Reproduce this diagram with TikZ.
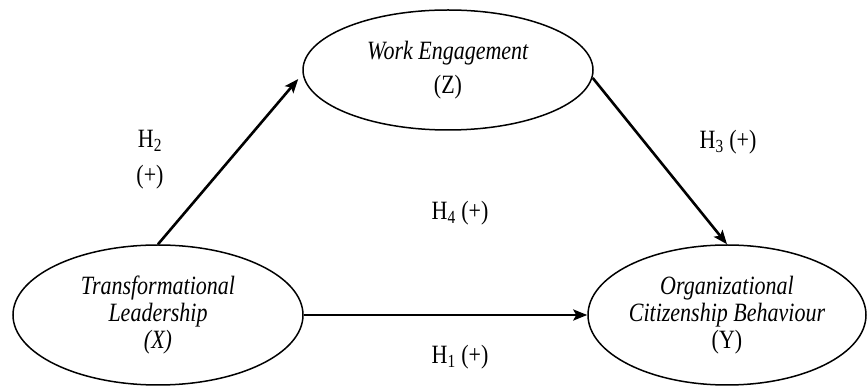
\documentclass[tikz,border=0pt]{standalone}
\usepackage{fontspec}
\usepackage{graphicx}
\setmainfont{Liberation Serif}
\usetikzlibrary{shapes.geometric,arrows.meta}
\newcommand{\vst}[1]{\scalebox{1}[1.2]{#1}}
\begin{document}
\begin{tikzpicture}[x=1pt,y=-1pt,
  latent/.style={ellipse,draw,line width=1.5pt,inner sep=0pt,align=center,font=\fontsize{22}{27}\selectfont},
  pathar/.style={line width=2.6pt,-{Stealth[length=14pt,width=11pt,inset=3pt]}},
  hyp/.style={font=\fontsize{22}{36}\selectfont,align=center,inner sep=0pt}]
\useasboundingbox (0,0) rectangle (868,387);
\node[latent,minimum width=290pt,minimum height=140pt] (X) at (158,315)
  {\vst{\textit{Transformational}}\\\vst{\textit{Leadership}}\\\vst{\textit{(X)}}};
\node[latent,minimum width=278pt,minimum height=140pt] (Y) at (727,315)
  {\vst{\textit{Organizational}}\\\vst{\textit{Citizenship Behaviour}}\\\vst{(Y)}};
\node[latent,minimum width=290pt,minimum height=120pt] (Z) at (448,70)
  {\vst{\textit{Work Engagement}}\\[7pt]\vst{(Z)}};
\draw[pathar] (X.north) -- ([xshift=-4pt,yshift=-9pt]Z.west);
\draw[pathar] ([xshift=-1pt,yshift=-8pt]Z.east) -- (Y.north);
\draw[pathar] (X.east) -- (Y.west);
\node[hyp] (h2) at (150,160) {\vst{H\textsubscript{2}}\\\vst{(+)}};
\node[hyp] (h3) at (728,142) {\vst{H\textsubscript{3} (+)}};
\node[hyp] (h4) at (460,213) {\vst{H\textsubscript{4} (+)}};
\node[hyp] (h1) at (460,357) {\vst{H\textsubscript{1} (+)}};
\end{tikzpicture}
\end{document}
